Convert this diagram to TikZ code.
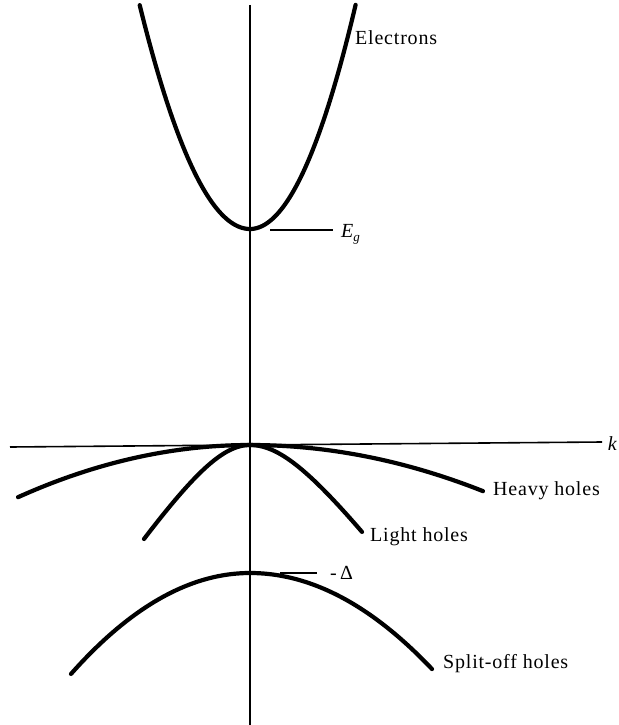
\documentclass[tikz,border=0pt]{standalone}
\usepackage{fontspec}
\newfontfamily\lab{Liberation Serif}[LetterSpace=4]
\newfontfamily\labit{Liberation Serif Italic}
\begin{document}
\begin{tikzpicture}[x=1pt,y=1pt,
  band/.style={line width=4.2pt,line cap=round},
  axis/.style={line width=1.6pt},
  tick/.style={line width=1.3pt},
  lbl/.style={inner sep=0pt,font=\lab\fontsize{20}{24}\selectfont}]
\useasboundingbox (0,0) rectangle (618,-725);
% axes
\draw[axis] (250,-5) -- (250,-725);
\draw[axis] (10,-447) -- (602,-442);
% electrons
\draw[band] plot[domain=-110.3:0,samples=60] ({250+\x},{-229+184*(\x/100)^2})
  -- plot[domain=0:105.6,samples=60] ({250+\x},{-229+201*(\x/100)^2});
% heavy holes
\draw[band] plot[domain=-232:0,samples=60] ({250+\x},{-445-9.7*(\x/100)^2})
  -- plot[domain=0:233,samples=60] ({250+\x},{-445-8.5*(\x/100)^2});
% light holes
\draw[band] plot[domain=-106:0,samples=60] ({250+\x},{-445-100*(sqrt(0.7225+2.208*(\x/100)^2)-0.85)})
  -- plot[domain=0:112,samples=60] ({250+\x},{-445-100*(sqrt(0.7225+1.78*(\x/100)^2)-0.85)});
% split-off holes
\draw[band] plot[domain=-179:0,samples=60] ({250+\x},{-573-31.5*(\x/100)^2})
  -- plot[domain=0:182,samples=60] ({250+\x},{-573-29*(\x/100)^2});
% labels
\node[lbl,anchor=base west] (el) at (355,-45) {Electrons};
\node[lbl,anchor=base west] (eg) at (341,-237) {{\labit E}\raisebox{-0.45ex}{\fontsize{13}{15}\selectfont\labit g}};
\coordinate (egs) at (270,-230);
\draw[tick] (egs) -- (333,-230);
\node[lbl,anchor=base west] (hh) at (493,-495) {Heavy holes};
\node[lbl,anchor=base west] (lh) at (370,-541) {Light holes};
\node[lbl,anchor=base west] (dl) at (330,-579) {-\,Δ};
\coordinate (dls) at (280,-573);
\draw[tick] (dls) -- (317,-573);
\node[lbl,anchor=base west] (so) at (443,-668) {Split-off holes};
\node[lbl,anchor=base east] (k) at (617,-450) {\labit k};
\end{tikzpicture}
\end{document}
